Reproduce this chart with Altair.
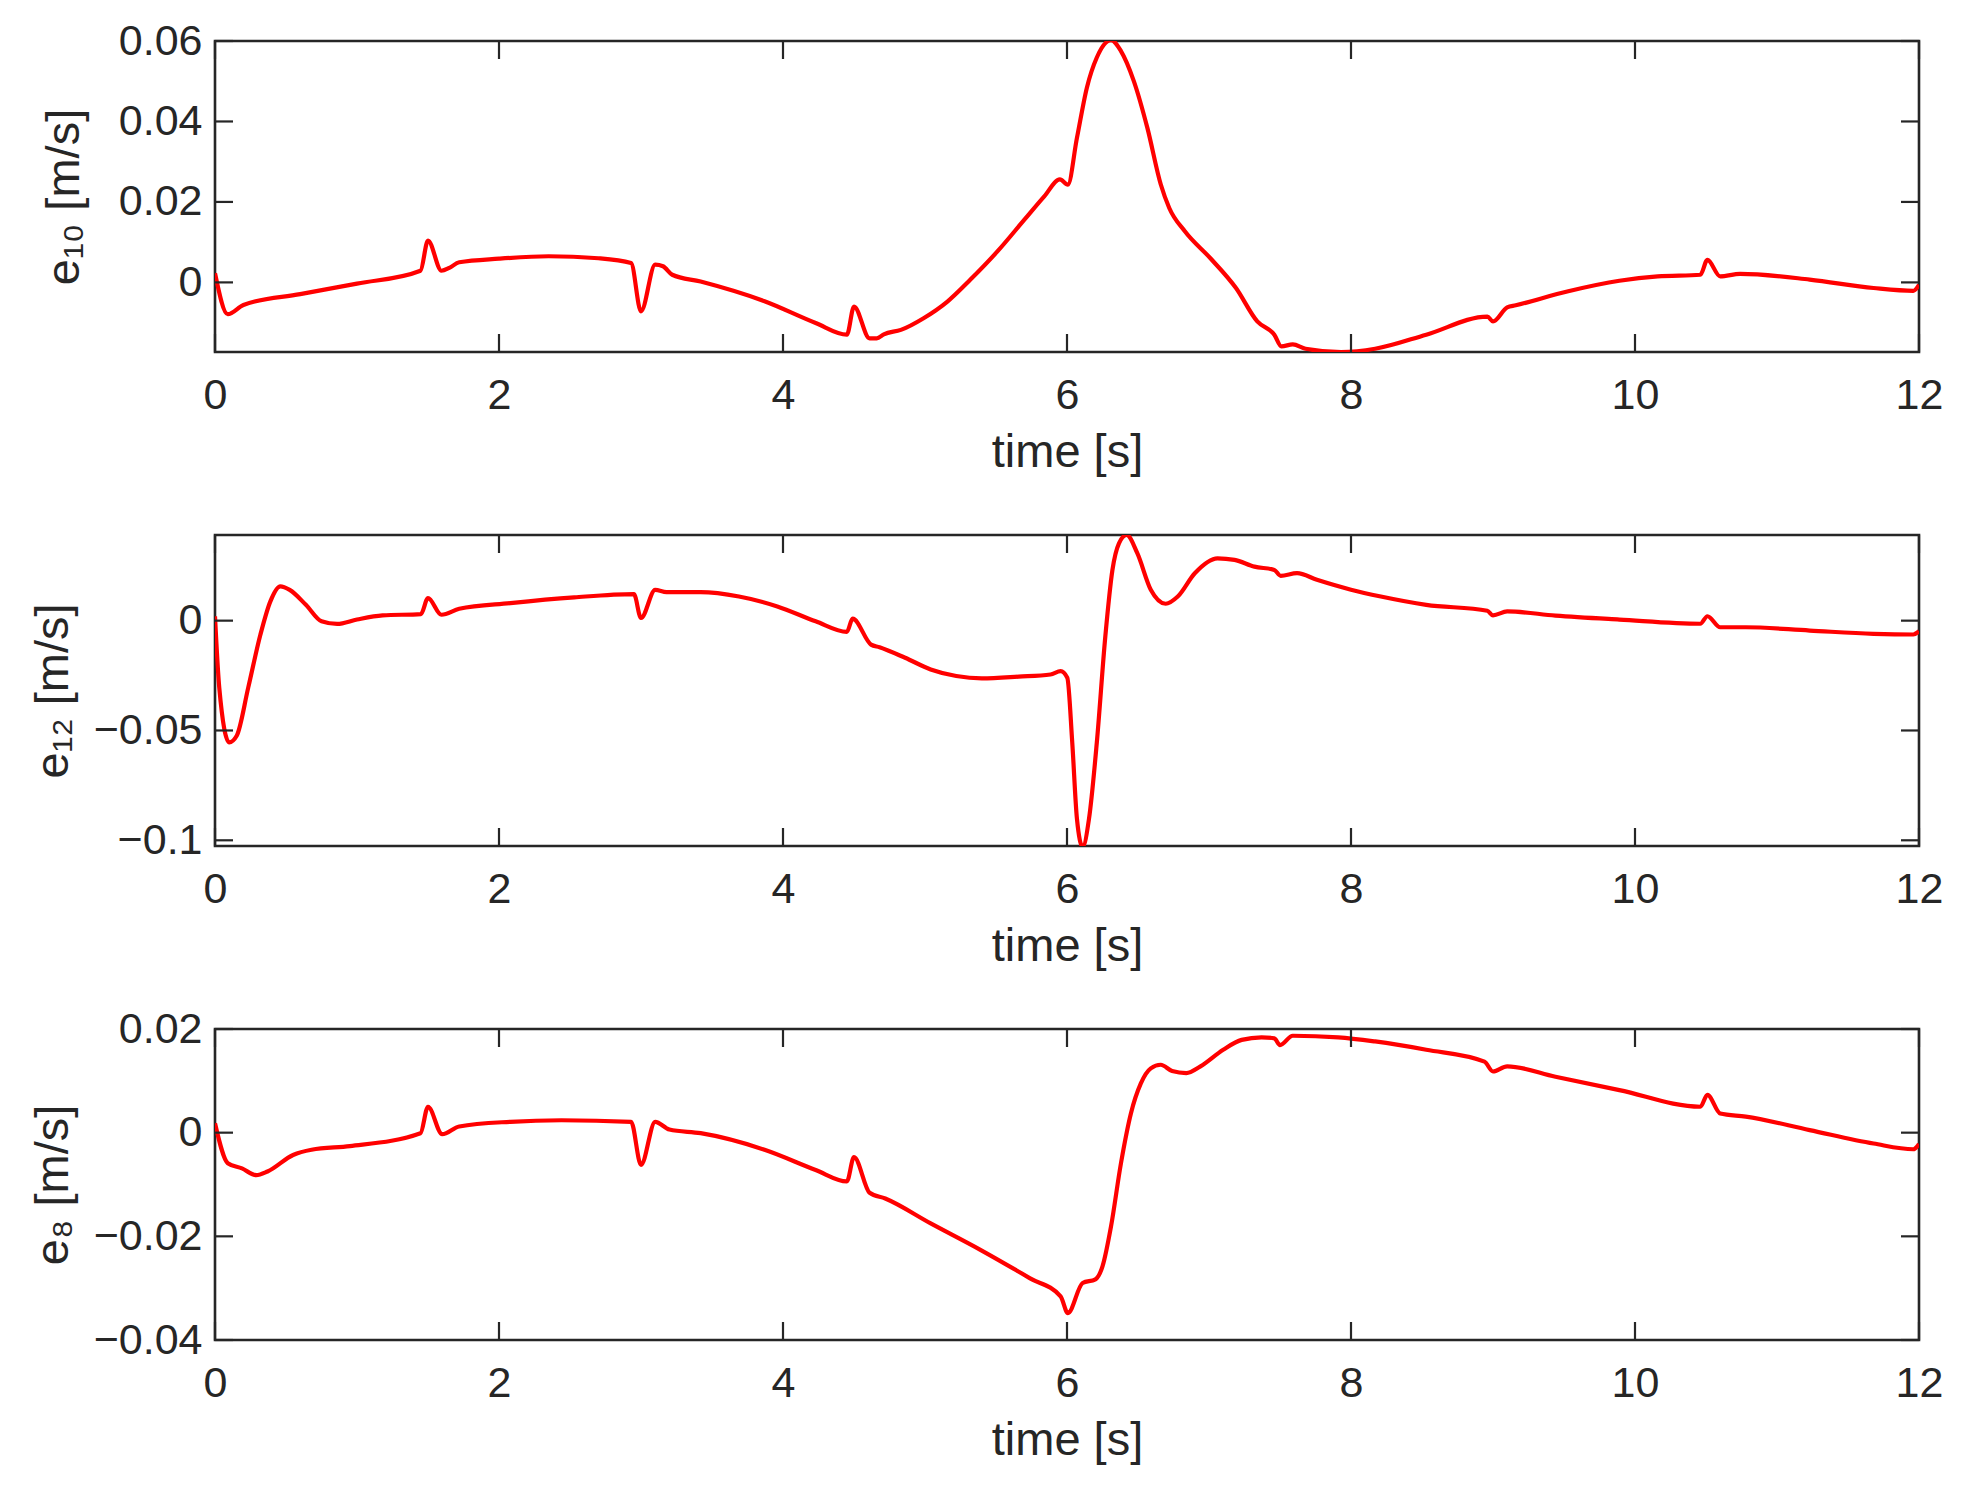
import altair as alt
import pandas as pd

# ---------------- data ----------------
x_ticks = [0, 2, 4, 6, 8, 10, 12]

t1 = [0, 0.09, 0.2, 0.6, 1.0, 1.447, 1.50, 1.595, 1.65, 1.72, 2.0, 2.35, 2.7, 2.93, 3.0, 3.1, 3.155,
      3.22, 3.42, 3.87, 4.23, 4.45, 4.50, 4.61, 4.66, 4.71, 4.83, 4.99, 5.16, 5.32, 5.51, 5.70, 5.84,
      5.95, 6.006, 6.07, 6.14, 6.21, 6.31, 6.38, 6.47, 6.566, 6.66, 6.72, 6.83, 7.01, 7.19, 7.34,
      7.46, 7.51, 7.59, 7.68, 7.93, 8.17, 8.53, 8.96, 9.0, 9.10, 9.16, 9.53, 9.89, 10.16, 10.46,
      10.51, 10.60, 10.74, 11.23, 11.68, 11.96, 12.0]
v1 = [0.0023, -0.0079, -0.0056, -0.0029, -0.0003, 0.0029, 0.0104, 0.0029, 0.0036, 0.0050, 0.0059,
      0.0065, 0.0060, 0.0048, -0.0072, 0.0044, 0.0040, 0.0019, 0.0002, -0.0047, -0.0101, -0.0130,
      -0.0060, -0.0139, -0.0139, -0.0129, -0.0118, -0.0089, -0.0047, 0.0007, 0.0077, 0.0156, 0.0214,
      0.0256, 0.0243, 0.0359, 0.0484, 0.0559, 0.0602, 0.0575, 0.0501, 0.0384, 0.0244, 0.0185, 0.0127,
      0.0060, -0.0014, -0.0097, -0.0130, -0.0159, -0.0154, -0.0165, -0.0173, -0.0165, -0.0130,
      -0.0085, -0.0097, -0.0062, -0.0057, -0.0022, 0.0004, 0.0015, 0.0019, 0.0056, 0.0015, 0.0021,
      0.0007, -0.0014, -0.0021, -0.0006]

t2 = [0, 0.03, 0.10, 0.153, 0.234, 0.32, 0.39, 0.46, 0.526, 0.64, 0.75, 0.86, 1.0, 1.18, 1.45, 1.50,
      1.595, 1.72, 2.08, 2.53, 2.95, 3.0, 3.1, 3.18, 3.42, 3.69, 3.96, 4.23, 4.45, 4.49, 4.62, 4.68,
      4.86, 5.04, 5.22, 5.40, 5.66, 5.884, 5.955, 6.002, 6.037, 6.07, 6.11, 6.155, 6.21, 6.27, 6.32,
      6.366, 6.42, 6.495, 6.59, 6.695, 6.78, 6.90, 7.06, 7.18, 7.32, 7.46, 7.505, 7.62, 7.76, 8.0,
      8.21, 8.53, 8.96, 9.0, 9.10, 9.44, 9.89, 10.46, 10.51, 10.60, 10.78, 11.23, 11.68, 11.96, 12.0]
v2 = [0.0020, -0.0305, -0.0554, -0.0524, -0.0305, -0.0063, 0.0088, 0.0156, 0.0140, 0.0072, -0.0003,
      -0.0015, 0.0005, 0.0024, 0.0030, 0.0103, 0.0027, 0.0054, 0.0080, 0.0106, 0.0121, 0.0012, 0.0140,
      0.0130, 0.0130, 0.0110, 0.0065, -0.0003, -0.0051, 0.0009, -0.0109, -0.0121, -0.0169, -0.0222,
      -0.0252, -0.0263, -0.0255, -0.0245, -0.0230, -0.0260, -0.0555, -0.0902, -0.1030, -0.0902,
      -0.0555, -0.0071, 0.0231, 0.0352, 0.0390, 0.0307, 0.0141, 0.0077, 0.0110, 0.0216, 0.0284,
      0.0277, 0.0246, 0.0231, 0.0204, 0.0216, 0.0186, 0.0141, 0.0110, 0.0072, 0.0045, 0.0024, 0.0042,
      0.0023, 0.0005, -0.0014, 0.0020, -0.0030, -0.0030, -0.0045, -0.0060, -0.0063, -0.0048]

t3 = [0, 0.09, 0.19, 0.29, 0.37, 0.55, 0.68, 0.95, 1.447, 1.50, 1.60, 1.72, 2.08, 2.44, 2.93, 3.0,
      3.1, 3.2, 3.42, 3.87, 4.23, 4.45, 4.50, 4.61, 4.72, 5.04, 5.39, 5.74, 5.955, 6.006, 6.11, 6.20,
      6.25, 6.31, 6.38, 6.45, 6.52, 6.59, 6.66, 6.74, 6.84, 6.94, 7.10, 7.23, 7.37, 7.46, 7.50, 7.59,
      7.91, 8.17, 8.53, 8.94, 9.0, 9.10, 9.44, 9.89, 10.46, 10.51, 10.60, 10.78, 11.23, 11.68, 11.96,
      12.0]
v3 = [0.0018, -0.0059, -0.0069, -0.0082, -0.0075, -0.0043, -0.0033, -0.0026, -0.0001, 0.0050,
      -0.0003, 0.0012, 0.0021, 0.0024, 0.0021, -0.0062, 0.0021, 0.0006, -0.0001, -0.0033, -0.0072,
      -0.0094, -0.0047, -0.0116, -0.0127, -0.0175, -0.0226, -0.0281, -0.0316, -0.0348, -0.0290,
      -0.0283, -0.0258, -0.0181, -0.0059, 0.0037, 0.0095, 0.0124, 0.0131, 0.0119, 0.0115, 0.0128,
      0.0160, 0.0179, 0.0184, 0.0182, 0.0169, 0.0187, 0.0184, 0.0176, 0.0160, 0.0137, 0.0118, 0.0128,
      0.0108, 0.0082, 0.0050, 0.0073, 0.0037, 0.0031, 0.0005, -0.0021, -0.0032, -0.0022]

y_ticks1 = [0, 0.02, 0.04, 0.06]
y_ticks2 = [-0.1, -0.05, 0]
y_ticks3 = [-0.04, -0.02, 0, 0.02]

# ---------------- styling ----------------
FONT = "Liberation Sans"
INK = "#262626"
W, H = 1704, 311
TICK = 18
LABEL_EXPR = "replace(format(datum.value, '~g'), '-', '\u2212')"


def panel(t, v, domain, yticks, title, title_pad):
    df = pd.DataFrame({"t": t, "v": v})
    xt = pd.DataFrame({"t": x_ticks})
    yt = pd.DataFrame({"v": yticks})
    xscale = alt.Scale(domain=[0, 12], nice=False, zero=False)
    yscale = alt.Scale(domain=domain, nice=False, zero=False)
    xaxis = alt.Axis(values=x_ticks, title="time [s]", domain=False, ticks=False, grid=False,
                     labelFlush=False, labelPadding=22, titlePadding=12, labelExpr=LABEL_EXPR)
    yaxis = alt.Axis(values=yticks, title=title, domain=False, ticks=False, grid=False,
                     labelFlush=False, labelPadding=13, titlePadding=title_pad,
                     labelExpr=LABEL_EXPR)
    X = alt.X("t:Q", scale=xscale, axis=xaxis)
    Y = alt.Y("v:Q", scale=yscale, axis=yaxis)
    line = alt.Chart(df).mark_line(color="#FF0000", strokeWidth=4.2, interpolate="monotone",
                                   clip=True).encode(x=X, y=Y)
    rule = dict(color=INK, strokeWidth=2.2)
    bottom = alt.Chart(xt).mark_rule(**rule).encode(x=X, y=alt.value(H), y2=alt.value(H - TICK))
    top = alt.Chart(xt).mark_rule(**rule).encode(x=X, y=alt.value(0), y2=alt.value(TICK))
    left = alt.Chart(yt).mark_rule(**rule).encode(y=Y, x=alt.value(0), x2=alt.value(TICK))
    right = alt.Chart(yt).mark_rule(**rule).encode(y=Y, x=alt.value(W), x2=alt.value(W - TICK))
    return alt.layer(line, bottom, top, left, right).properties(width=W, height=H)


p1 = panel(t1, v1, [-0.0173, 0.06], y_ticks1, "e\u2081\u2080 [m/s]", 30)
p2 = panel(t2, v2, [-0.1026, 0.039], y_ticks2, "e\u2081\u2082 [m/s]", 16)
p3 = panel(t3, v3, [-0.04, 0.02], y_ticks3, "e\u2088 [m/s]", 16)

chart = alt.vconcat(p1, p2, p3, spacing=183, bounds="flush").properties(
    padding={"left": 27, "top": 18, "right": 10, "bottom": 10},
    background="white",
).configure_view(
    stroke=INK, strokeWidth=2.6
).configure_axis(
    labelFont=FONT, labelFontSize=43, labelColor=INK,
    titleFont=FONT, titleFontSize=47, titleFontWeight="normal", titleColor=INK,
)

chart.save("out.html", embed_options={"renderer": "svg", "actions": False})
